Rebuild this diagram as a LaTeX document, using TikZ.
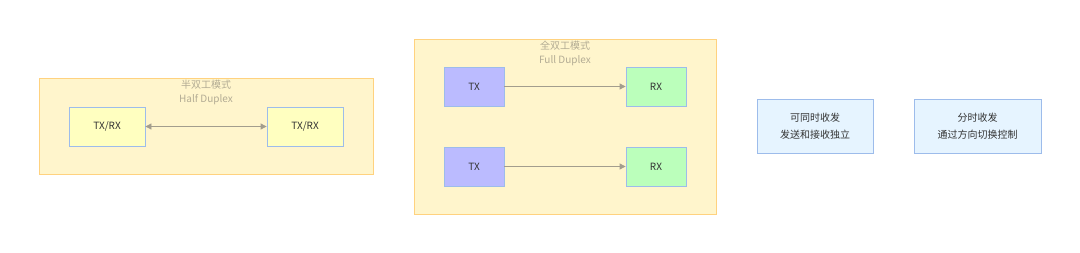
\documentclass[tikz,border=0pt]{standalone}
\usepackage{fontspec}
\setmainfont{Noto Sans CJK SC}
\usetikzlibrary{arrows.meta, positioning}

\definecolor{clusterfill}{HTML}{FFF5CC}
\definecolor{clusterdraw}{HTML}{FFD27F}
\definecolor{titlegray}{HTML}{B3AC94}
\definecolor{ioyellow}{HTML}{FFFFC0}
\definecolor{txblue}{HTML}{BBBBFF}
\definecolor{rxgreen}{HTML}{BBFFBB}
\definecolor{notefill}{HTML}{E6F4FF}
\definecolor{edgeblue}{HTML}{9DBCEB}
\definecolor{linkgray}{HTML}{A39D8D}

\begin{document}
\begin{tikzpicture}[
        x=0.75pt, y=-0.75pt,
        cluster/.style={rectangle, draw=clusterdraw, fill=clusterfill, line width=0.6pt},
        ctitle/.style={font=\fontsize{7.5}{9}\selectfont, text=titlegray, inner sep=0pt},
        port/.style={rectangle, draw=edgeblue, line width=0.6pt, minimum height=29.25pt, font=\fontsize{7.5}{9}\selectfont, text=black!80},
        trx/.style={port, fill=ioyellow, minimum width=57pt},
        tx/.style={port, fill=txblue, minimum width=45pt},
        rx/.style={port, fill=rxgreen, minimum width=45pt},
        note/.style={rectangle, draw=edgeblue, fill=notefill, line width=0.6pt, minimum height=40.5pt, align=center, font=\fontsize{7.5}{13}\selectfont, text=black!80},
        link/.style={draw=linkgray, line width=0.6pt, -{Triangle[length=4.5pt, width=4.5pt]}}
    ]
        \useasboundingbox (0,0) rectangle (1080,253);

        % ----------------------------------------------------
        % HALF DUPLEX (Left)
        % ----------------------------------------------------
        \node[cluster, minimum width=250.5pt, minimum height=72pt] (half) at (206,126) {};
        \node[ctitle] (halfzh) at (206,85) {半双工模式};
        \node[ctitle] (halfen) at (206,100) {Half Duplex};

        \node[trx] (trxa) at (107,126.5) {TX/RX};
        \node[trx] (trxb) at (305,126.5) {TX/RX};
        \draw[link, {Triangle[length=4.5pt, width=4.5pt]}-{Triangle[length=4.5pt, width=4.5pt]}] (trxa.east) -- (trxb.west);

        % ----------------------------------------------------
        % FULL DUPLEX (Middle)
        % ----------------------------------------------------
        \node[cluster, minimum width=226.5pt, minimum height=131.25pt] (full) at (565,126.5) {};
        \node[ctitle] (fullzh) at (565,46) {全双工模式};
        \node[ctitle] (fullen) at (565,60.5) {Full Duplex};

        \node[tx] (txa) at (474,86.5) {TX};
        \node[rx] (rxa) at (656,86.5) {RX};
        \node[tx] (txb) at (474,166.5) {TX};
        \node[rx] (rxb) at (656,166.5) {RX};
        \draw[link] (txa.east) -- (rxa.west);
        \draw[link] (txb.east) -- (rxb.west);

        % ----------------------------------------------------
        % NOTES (Right)
        % ----------------------------------------------------
        \node[note, minimum width=87pt] (notefull) at (815,126) {可同时收发\\发送和接收独立};
        \node[note, minimum width=95.25pt] (notehalf) at (977.5,126) {分时收发\\通过方向切换控制};

    \end{tikzpicture}
\end{document}
